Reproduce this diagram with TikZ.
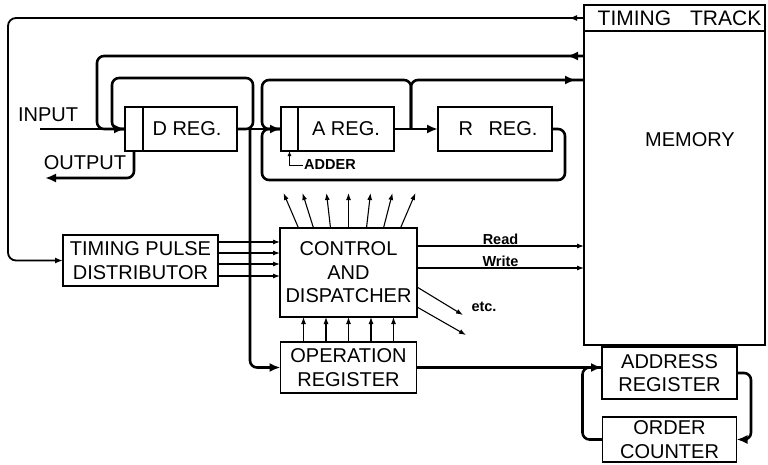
\documentclass[tikz,border=0pt]{standalone}
\usepackage{fontspec}
\setmainfont{Liberation Sans}
\usetikzlibrary{arrows.meta,positioning,decorations.markings}
\newcommand\labfont{\fontsize{20}{23.5}\selectfont}
\newcommand\tagfont{\fontsize{14.5}{16}\selectfont\bfseries}

\begin{document}
\begin{tikzpicture}[x=1pt, y=-1pt,
      reg/.style={draw, line width=1.5pt, inner sep=0pt, outer sep=0pt,
                  minimum height=44pt, font=\labfont, align=center},
      lbl/.style={font=\labfont, inner sep=0pt},
      tag/.style={font=\tagfont, inner sep=1pt},
      bus/.style={line width=2.6pt, rounded corners=7pt},
      busarr/.style={bus, -{Latex[length=11pt,width=9pt]}},
      clk/.style={line width=1.8pt, rounded corners=8pt, -{Latex[length=8pt,width=6pt]}},
      sig/.style={line width=1.1pt, -{Latex[length=7pt,width=5pt]}},
      midtip/.style={postaction={decorate}, decoration={markings,
                  mark=at position #1 with {\arrow{Latex[length=11pt,width=9pt]}}}},
      smalltip/.style={postaction={decorate}, decoration={markings,
                  mark=at position #1 with {\arrow{Latex[length=8pt,width=6pt]}}}}
  ]
    \useasboundingbox (0,0) rectangle (768,464);

    \node[reg, minimum width=18pt] (dcell) at (134,129) {};
    \node[reg, minimum width=94pt, right=0pt of dcell] (dreg) {D REG.\hspace{6pt}};
    \node[reg, minimum width=17pt, right=44pt of dreg] (acell) {};
    \node[reg, minimum width=96pt, right=0pt of acell] (areg) {A REG.};
    \node[reg, minimum width=114pt, right=44pt of areg] (rreg) {\hspace{6pt}R\hspace{0.5em} REG.};

    \node[reg, minimum width=181pt, minimum height=314pt] (mem) at (674.5,188) {};
    \node[reg, minimum width=181pt, minimum height=26pt, above=0pt of mem,
          font=\fontsize{21}{23}\selectfont] (track) {\hspace{10pt}TIMING\hspace{0.9em}TRACK};
    \node[lbl] (memtxt) at (690,140) {MEMORY};

    \node[reg, minimum width=155pt, minimum height=51pt] (tpd) at (140.5,260.5) {TIMING PULSE\\DISTRIBUTOR};
    \node[reg, minimum width=137pt, minimum height=89pt] (ctrl) at (348.5,272.5) {CONTROL\\AND\\DISPATCHER};
    \node[reg, minimum width=136pt, minimum height=51pt, below=25pt of ctrl] (opreg) {OPERATION\\REGISTER};
    \node[reg, minimum width=135pt, minimum height=52pt] (adr) at (669.5,373) {ADDRESS\\REGISTER};
    \node[reg, minimum width=134pt, minimum height=45pt, below=18pt of adr] (oc) {ORDER\\COUNTER};

    \node[lbl] (inlbl) at (48,115) {INPUT};
    \node[lbl] (outlbl) at (85,163) {OUTPUT};
    \node[tag, anchor=west] (adder) at (303,165) {ADDER};
    \node[tag] (etc) at (484,307) {etc.};

    \coordinate (mout) at (584,56);
    \coordinate (min) at (584,80);
    \coordinate (inpt) at (40,129);
    \coordinate (outpt) at (45,178);
    \coordinate (dj) at ([xshift=13pt]dreg.east);
    \coordinate (aj) at ([xshift=17pt]areg.east);

    \draw[clk, smalltip=15pt] (track.west) -- ++(-576,0) |- (tpd.west);
    \draw[bus, midtip=17pt] (mout) -| ([xshift=-28pt]dcell.west) -- (dcell.west);
    \draw[bus] (dreg.east) -- ++(16,0) -- ++(0,-51) -- ++(-141,0) -- ++(0,51) -- (dcell.west);
    \draw[busarr] (inpt) -- (dcell.west);
    \draw[busarr] (dcell.south) |- (outpt);

    \draw[busarr] (dreg.east) -- (acell.west);
    \draw[busarr] (dj) |- (opreg.west);
    \draw[bus] (aj) -- ++(0,-49) -- ++(-149,0) |- (acell.west);
    \draw[bus, midtip=-8pt] (aj) |- (min);
    \draw[bus] (rreg.east) -- ++(13,0) -- ++(0,51) -- ++(-303,0) |- (acell.west);
    \draw[busarr] (areg.east) -- (rreg.west);
    \draw[line width=1pt, -{Latex[length=5pt,width=4pt]}] (adder.west) -| (acell.south);

    \foreach \s in {18.5,7.5,-3.5,-15.5}
      \draw[sig] ([yshift=\s pt]tpd.east) -- ([yshift=\s pt]tpd.east -| ctrl.west);
    \foreach \b/\t in {-50/-65,-35/-46,-18/-22,0/0,18/22,35/44,52/67}
      \draw[sig] ([xshift=\b pt]ctrl.north) -- ([xshift=\t pt,yshift=35pt]ctrl.north);
    \draw[sig] ([yshift=26.5pt]ctrl.east) -- ([yshift=26.5pt]ctrl.east -| mem.west)
      node[tag, midway, above] (read) {Read};
    \draw[sig] ([yshift=4.5pt]ctrl.east) -- ([yshift=4.5pt]ctrl.east -| mem.west)
      node[tag, midway, above] (write) {Write};
    \draw[sig] ([yshift=-14.5pt]ctrl.east) -- ++(46,28);
    \draw[sig] ([yshift=-34.5pt]ctrl.east) -- ++(49,28);
    \foreach \dx in {-45,-22.5,0,22.5,45}
      \draw[sig] ([xshift=\dx pt]opreg.north) -- ([xshift=\dx pt]ctrl.south);

    \draw[busarr] (opreg.east) -- (opreg.east -| adr.west);
    \draw[busarr] (adr.east) -- ++(14,0) |- (oc.east);
    \draw[bus] (oc.west) -- ++(-20,0) |- (opreg.east -| adr.west);
  \end{tikzpicture}
\end{document}
